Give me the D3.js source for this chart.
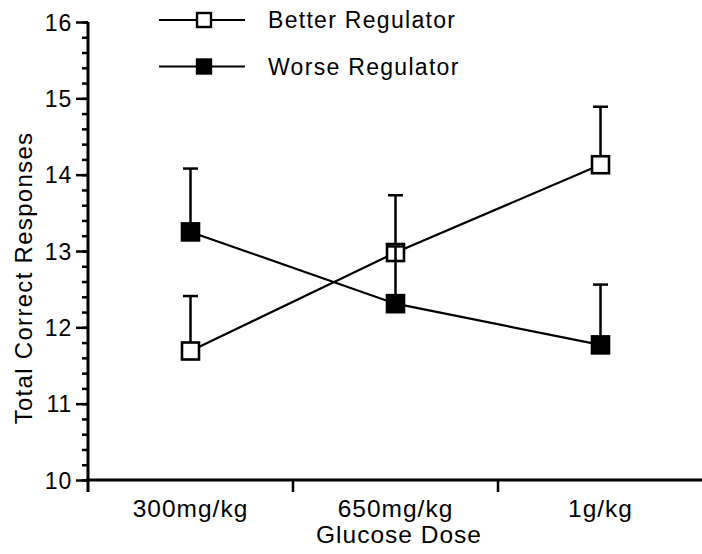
<!DOCTYPE html>
<html>
<head>
<meta charset="utf-8">
<script src="https://cdn.jsdelivr.net/npm/d3@7"></script>
<style>
  body { margin: 0; background: #fff; }
  svg text { font-family: "Liberation Sans", Arial, sans-serif; fill: #000; }
</style>
</head>
<body>
<script>
// doses on the x axis
var doses = ["300mg/kg", "650mg/kg", "1g/kg"];
// means and upper error bar ends
var betterMean = [11.69, 12.98, 14.13];
var betterUpper = [12.41, 13.73, 14.89];
var worseMean = [13.25, 12.31, 11.77];
var worseUpper = [14.08, 13.06, 12.56];
var yTicks = [10, 11, 12, 13, 14, 15, 16];
var seriesNames = ["Better Regulator", "Worse Regulator"];

var width = 702, height = 554;

var svg = d3.select("body").append("svg")
    .attr("width", width)
    .attr("height", height);

var x = d3.scaleBand().domain(doses).range([88, 703]);
var y = d3.scaleLinear().domain([10, 16]).range([480, 22]);

var series = [
  {name: seriesNames[0], mean: betterMean, upper: betterUpper, fill: "#fff"},
  {name: seriesNames[1], mean: worseMean, upper: worseUpper, fill: "#000"}
];

function cx(d) { return x(d) + x.bandwidth() / 2; }

// y axis, minor ticks first
var minor = d3.range(10, 16.001, 0.2);
svg.append("g")
    .attr("transform", "translate(88,0)")
    .call(d3.axisLeft(y).tickValues(minor).tickSize(6).tickFormat(""))
    .call(function(g) { g.select(".domain").remove(); })
    .selectAll("line").attr("stroke-width", 2.5);

var yAxis = svg.append("g")
    .attr("transform", "translate(88,0)")
    .call(d3.axisLeft(y).tickValues(yTicks).tickSize(12).tickPadding(4)
      .tickSizeOuter(0).tickFormat(d3.format("d")));
yAxis.select(".domain").remove();
yAxis.selectAll("line").attr("stroke-width", 2.5);
yAxis.selectAll("text")
    .style("font-size", "23px")
    .style("letter-spacing", "0.8px")
    .attr("dy", "0.36em");

svg.append("line")
    .attr("x1", 88).attr("x2", 88)
    .attr("y1", y(16)).attr("y2", 492)
    .attr("stroke", "#000").attr("stroke-width", 3);

// x axis
svg.append("line")
    .attr("x1", 86).attr("x2", 702)
    .attr("y1", y(10)).attr("y2", y(10))
    .attr("stroke", "#000").attr("stroke-width", 3);

svg.selectAll(".xtick")
    .data(doses.slice(1))
  .enter().append("line")
    .attr("class", "xtick")
    .attr("x1", function(d) { return x(d); })
    .attr("x2", function(d) { return x(d); })
    .attr("y1", y(10)).attr("y2", 492)
    .attr("stroke", "#000").attr("stroke-width", 2.5);

svg.selectAll(".xlabel")
    .data(doses)
  .enter().append("text")
    .attr("class", "xlabel")
    .attr("x", cx)
    .attr("y", 517)
    .attr("text-anchor", "middle")
    .style("font-size", "24.5px")
    .style("letter-spacing", "1px")
    .text(function(d) { return d; });

svg.append("text")
    .attr("x", 399).attr("y", 543)
    .attr("text-anchor", "middle")
    .style("font-size", "24.5px")
    .style("letter-spacing", "1px")
    .text("Glucose Dose");

svg.append("text")
    .attr("transform", "translate(32,278) rotate(-90)")
    .attr("text-anchor", "middle")
    .style("font-size", "24px")
    .style("letter-spacing", "1.3px")
    .text("Total Correct Responses");

// connecting lines
var line = d3.line()
    .x(function(d, i) { return cx(doses[i]); })
    .y(function(d) { return y(d); });

series.forEach(function(s) {
  svg.append("path")
      .datum(s.mean)
      .attr("d", line)
      .attr("fill", "none")
      .attr("stroke", "#000")
      .attr("stroke-width", 2.2);
});

// error bars and markers, one series after the other
var ms = 17;
series.forEach(function(s) {
  var g = svg.append("g");
  doses.forEach(function(d, i) {
    g.append("line")
        .attr("x1", cx(d)).attr("x2", cx(d))
        .attr("y1", y(s.mean[i])).attr("y2", y(s.upper[i]))
        .attr("stroke", "#000").attr("stroke-width", 2.5);
    g.append("line")
        .attr("x1", cx(d) - 7.5).attr("x2", cx(d) + 7.5)
        .attr("y1", y(s.upper[i])).attr("y2", y(s.upper[i]))
        .attr("stroke", "#000").attr("stroke-width", 2.5);
  });
  g.selectAll("rect")
      .data(s.mean)
    .enter().append("rect")
      .attr("x", function(v, i) { return cx(doses[i]) - ms / 2; })
      .attr("y", function(v) { return y(v) - ms / 2; })
      .attr("width", ms).attr("height", ms)
      .attr("fill", s.fill)
      .attr("stroke", "#000").attr("stroke-width", 2.6);
});

// legend
var legend = svg.selectAll(".legend")
    .data(series)
  .enter().append("g")
    .attr("class", "legend")
    .attr("transform", function(d, i) { return "translate(0," + (20 + i * 46.5) + ")"; });

legend.append("line")
    .attr("x1", 159).attr("x2", 245)
    .attr("stroke", "#000").attr("stroke-width", 2.2);
legend.append("rect")
    .attr("x", 204 - 7).attr("y", -7)
    .attr("width", 14).attr("height", 14)
    .attr("fill", function(d) { return d.fill; })
    .attr("stroke", "#000").attr("stroke-width", 2.4);
legend.append("text")
    .attr("x", 268).attr("y", 8)
    .style("font-size", "23px")
    .style("letter-spacing", "1.3px")
    .text(function(d) { return d.name; });
</script>
</body>
</html>
